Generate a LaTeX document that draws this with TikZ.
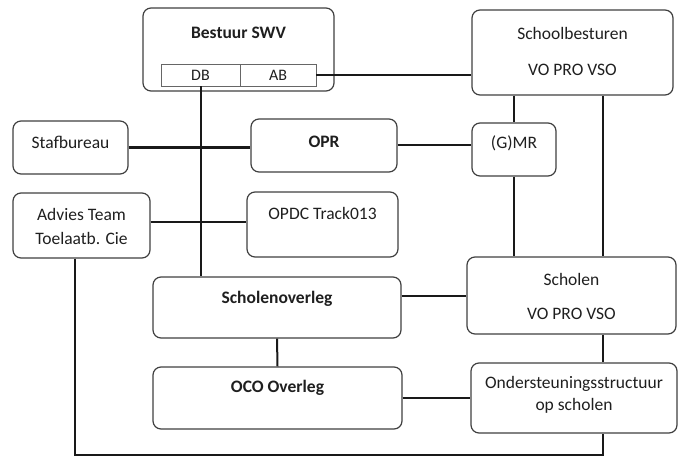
\documentclass[tikz,border=0pt]{standalone}
\usepackage{fontspec}
\setmainfont{Carlito}
\begin{document}
\begin{tikzpicture}[x=1pt,y=-1pt,
  box/.style={draw=black!75, line width=1.2pt, rounded corners=8pt, fill=white, inner sep=0pt},
  cell/.style={draw=black!60, line width=0.9pt, fill=white, inner sep=0pt, minimum height=22pt},
  txt/.style={inner sep=0pt, text=black!88, font=\fontsize{17.5}{20}\selectfont},
  btxt/.style={txt, font=\fontsize{17.5}{20}\selectfont\bfseries},
  stxt/.style={txt, font=\fontsize{16}{18}\selectfont},
  conn/.style={draw=black!90, line width=2pt},
  thickconn/.style={draw=black!90, line width=3pt}]
\useasboundingbox (0,0) rectangle (679,457);

% boxes
\node[box, minimum width=191pt, minimum height=83pt] (swv) at (238.5,49.5) {};
\node[box, minimum width=201pt, minimum height=85pt] (sb) at (572.5,52.5) {};
\node[box, minimum width=115pt, minimum height=53pt] (staf) at (70.5,147.5) {};
\node[box, minimum width=146pt, minimum height=53pt] (opr) at (324,145.5) {};
\node[box, minimum width=84pt, minimum height=53pt] (gmr) at (514,149.5) {};
\node[box, minimum width=137pt, minimum height=65pt] (adv) at (81.5,225.5) {};
\node[box, minimum width=151pt, minimum height=65pt] (opdc) at (322.5,224.5) {};
\node[box, minimum width=248pt, minimum height=61pt] (sov) at (277,307.5) {};
\node[box, minimum width=209pt, minimum height=77pt] (sch) at (571.5,295.5) {};
\node[box, minimum width=249pt, minimum height=62pt] (oco) at (277.5,398) {};
\node[box, minimum width=206pt, minimum height=70pt] (ond) at (574,398) {};

% DB / AB cells
\node[cell, minimum width=79pt] (db) at (200.5,75) {};
\node[cell, minimum width=76pt] (ab) at (278,75) {};

% texts
\node[btxt] (swv-t) at (238.5,33) {Bestuur SWV};
\node[stxt] (db-t) at (200.5,75) {DB};
\node[stxt] (ab-t) at (278,75) {AB};
\node[txt] (sb-t1) at (572.5,33) {Schoolbesturen};
\node[txt] (sb-t2) at (572.5,70) {VO PRO VSO};
\node[txt] (staf-t) at (70.5,142) {Stafbureau};
\node[btxt] (opr-t) at (324,142) {OPR};
\node[txt] (gmr-t) at (514,143) {(G)MR};
\node[txt] (adv-t1) at (81.5,214) {Advies Team};
\node[txt] (adv-t2) at (81.5,238) {Toelaatb. Cie};
\node[txt] (opdc-t) at (322.5,213) {OPDC Track013};
\node[btxt] (sov-t) at (277,299) {Scholenoverleg};
\node[txt] (sch-t1) at (571.5,279) {Scholen};
\node[txt] (sch-t2) at (571.5,314) {VO PRO VSO};
\node[btxt] (oco-t) at (277.5,388) {OCO Overleg};
\node[txt] (ond-t1) at (574,384) {Ondersteuningsstructuur};
\node[txt] (ond-t2) at (574,406) {op scholen};

% corner of the bottom line
\coordinate (bl) at (75,455);
\coordinate (br) at (603,455);

% connectors
\draw[conn] (ab.east) -- (ab.east -| sb.west);
\draw[conn] (db.south) -- (db.south |- sov.north);
\draw[thickconn] (staf.east) -- (staf.east -| opr.west);
\draw[conn] (opr.east) -- (opr.east -| gmr.west);
\draw[conn] (gmr.north |- sb.south) -- (gmr.north);
\draw[conn] (gmr.south) -- (gmr.south |- sch.north);
\draw[conn] (br |- sb.south) -- (br |- sch.north);
\draw[conn] (adv.east |- 0,222) -- (opdc.west |- 0,222);
\draw[conn] (sov.east |- sch.west) -- (sch.west);
\draw[conn] (sov.south) -- (oco.north);
\draw[conn] (oco.east) -- (oco.east -| ond.west);
\draw[conn] (br |- sch.south) -- (br |- ond.north);
\draw[conn] (bl |- adv.south) -- (bl) -- (br) -- (br |- ond.south);
\end{tikzpicture}
\end{document}
